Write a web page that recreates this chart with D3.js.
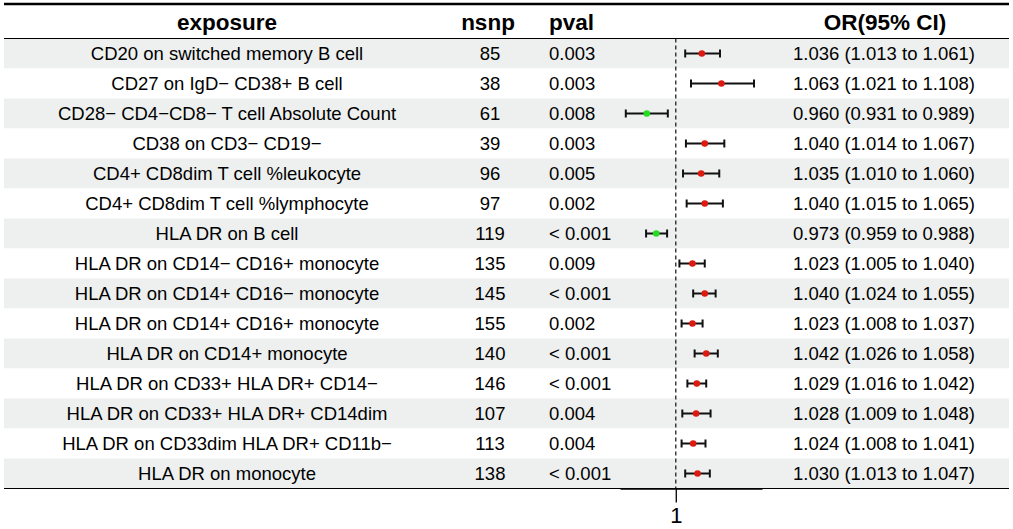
<!DOCTYPE html>
<html>
<head>
<meta charset="utf-8">
<script src="https://cdn.jsdelivr.net/npm/d3@7"></script>
<style>
  body { margin: 0; background: #fff; }
  text { font-family: "Liberation Sans", Arial, sans-serif; fill: #000; }
</style>
</head>
<body>
<div id="chart"></div>
<script>
// table data
const EXPOSURE = [
  "CD20 on switched memory B cell",
  "CD27 on IgD\u2212 CD38+ B cell",
  "CD28\u2212 CD4\u2212CD8\u2212 T cell Absolute Count",
  "CD38 on CD3\u2212 CD19\u2212",
  "CD4+ CD8dim T cell %leukocyte",
  "CD4+ CD8dim T cell %lymphocyte",
  "HLA DR on B cell",
  "HLA DR on CD14\u2212 CD16+ monocyte",
  "HLA DR on CD14+ CD16\u2212 monocyte",
  "HLA DR on CD14+ CD16+ monocyte",
  "HLA DR on CD14+ monocyte",
  "HLA DR on CD33+ HLA DR+ CD14\u2212",
  "HLA DR on CD33+ HLA DR+ CD14dim",
  "HLA DR on CD33dim HLA DR+ CD11b\u2212",
  "HLA DR on monocyte"
];
const NSNP = [85, 38, 61, 39, 96, 97, 119, 135, 145, 155, 140, 146, 107, 113, 138];
const PVAL = ["0.003", "0.003", "0.008", "0.003", "0.005", "0.002", "< 0.001", "0.009",
  "< 0.001", "0.002", "< 0.001", "< 0.001", "0.004", "0.004", "< 0.001"];
const OR = [1.036, 1.063, 0.960, 1.040, 1.035, 1.040, 0.973, 1.023, 1.040, 1.023, 1.042, 1.029, 1.028, 1.024, 1.030];
const LOWER = [1.013, 1.021, 0.931, 1.014, 1.010, 1.015, 0.959, 1.005, 1.024, 1.008, 1.026, 1.016, 1.009, 1.008, 1.013];
const UPPER = [1.061, 1.108, 0.989, 1.067, 1.060, 1.065, 0.988, 1.040, 1.055, 1.037, 1.058, 1.042, 1.048, 1.041, 1.047];
const HEADERS = ["exposure", "nsnp", "pval", "", "OR(95% CI)"];
const X_TICKS = [1];

const WIDTH = 1013, HEIGHT = 529;
const TABLE = {left: 4, right: 1009, top: 4, head: 38.5, rowH: 30};
const FOREST = {left: 620, right: 762};

const rows = EXPOSURE.map((e, i) => ({
  exposure: e, nsnp: NSNP[i], pval: PVAL[i], or: OR[i], lo: LOWER[i], hi: UPPER[i]
}));

const svg = d3.select("#chart").append("svg")
  .attr("width", WIDTH)
  .attr("height", HEIGHT);

// rows on a band scale
const Y = d3.scaleBand()
  .domain(d3.range(rows.length))
  .range([TABLE.head, TABLE.head + TABLE.rowH * rows.length]);

const X = d3.scaleLinear()
  .domain([0.923, 1.119])
  .range([FOREST.left, FOREST.right]);

const bottom = TABLE.head + TABLE.rowH * rows.length;

// zebra background
svg.selectAll(".bg")
  .data(rows)
  .enter()
  .append("rect")
  .attr("x", TABLE.left)
  .attr("y", (d, i) => Y(i))
  .attr("width", TABLE.right - TABLE.left)
  .attr("height", Y.bandwidth())
  .attr("fill", (d, i) => i % 2 === 0 ? "#eef0ef" : "#ffffff");

// header
const headX = [227, 488, 549, null, 885];
const headAnchor = ["middle", "middle", "start", null, "middle"];
HEADERS.forEach((h, k) => {
  if (!h) return;
  svg.append("text")
    .attr("x", headX[k])
    .attr("y", 30)
    .attr("text-anchor", headAnchor[k])
    .attr("font-weight", "bold")
    .attr("font-size", "22.5px")
    .text(h);
});

// table cells
const cellY = (i) => Y(i) + Y.bandwidth() / 2 + 6.5;
const cells = svg.selectAll(".row")
  .data(rows)
  .enter()
  .append("g")
  .attr("font-size", "18.5px");

cells.append("text")
  .attr("x", 227).attr("y", (d, i) => cellY(i))
  .attr("text-anchor", "middle")
  .text(d => d.exposure);

cells.append("text")
  .attr("x", 490).attr("y", (d, i) => cellY(i))
  .attr("text-anchor", "middle")
  .text(d => d.nsnp);

cells.append("text")
  .attr("x", 549).attr("y", (d, i) => cellY(i))
  .attr("text-anchor", "start")
  .text(d => d.pval);

cells.append("text")
  .attr("x", 884).attr("y", (d, i) => cellY(i))
  .attr("text-anchor", "middle")
  .text(d => d.or.toFixed(3) + " (" + d.lo.toFixed(3) + " to " + d.hi.toFixed(3) + ")");

// reference line at OR = 1
svg.append("line")
  .attr("x1", X(1)).attr("x2", X(1))
  .attr("y1", TABLE.head).attr("y2", bottom)
  .attr("stroke", "#222")
  .attr("stroke-width", 1.3)
  .attr("stroke-dasharray", "4,3");

// confidence intervals
const ci = svg.selectAll(".ci")
  .data(rows)
  .enter()
  .append("g")
  .attr("transform", (d, i) => "translate(0," + (Y(i) + Y.bandwidth() / 2) + ")");

ci.append("line")
  .attr("x1", d => X(d.lo)).attr("x2", d => X(d.hi))
  .attr("stroke", "#111").attr("stroke-width", 2);
ci.append("line")
  .attr("x1", d => X(d.lo)).attr("x2", d => X(d.lo))
  .attr("y1", -4).attr("y2", 4)
  .attr("stroke", "#111").attr("stroke-width", 2);
ci.append("line")
  .attr("x1", d => X(d.hi)).attr("x2", d => X(d.hi))
  .attr("y1", -4).attr("y2", 4)
  .attr("stroke", "#111").attr("stroke-width", 2);
ci.append("circle")
  .attr("cx", d => X(d.or))
  .attr("r", 3.3)
  .attr("fill", d => d.or < 1 ? "#22dd22" : "#dd1a10");

// table rules
svg.append("line")
  .attr("x1", TABLE.left).attr("x2", TABLE.right)
  .attr("y1", TABLE.top).attr("y2", TABLE.top)
  .attr("stroke", "#000").attr("stroke-width", 2.5);
svg.append("line")
  .attr("x1", TABLE.left).attr("x2", TABLE.right)
  .attr("y1", TABLE.head).attr("y2", TABLE.head)
  .attr("stroke", "#000").attr("stroke-width", 1.2);
svg.append("line")
  .attr("x1", TABLE.left).attr("x2", TABLE.right)
  .attr("y1", bottom).attr("y2", bottom)
  .attr("stroke", "#000").attr("stroke-width", 1.2);

// x axis
const axis = svg.append("g")
  .attr("transform", "translate(0," + bottom + ")")
  .call(d3.axisBottom(X).tickValues(X_TICKS).tickFormat(d3.format("d"))
    .tickSize(14).tickSizeOuter(0).tickPadding(5));
axis.select(".domain").attr("stroke", "#000").attr("stroke-width", 1.5);
axis.selectAll(".tick line").attr("stroke", "#000").attr("stroke-width", 1.3);
axis.selectAll(".tick text")
  .attr("font-size", "22px")
  .attr("font-family", "Liberation Sans, Arial, sans-serif")
  .attr("fill", "#000");
</script>
</body>
</html>
